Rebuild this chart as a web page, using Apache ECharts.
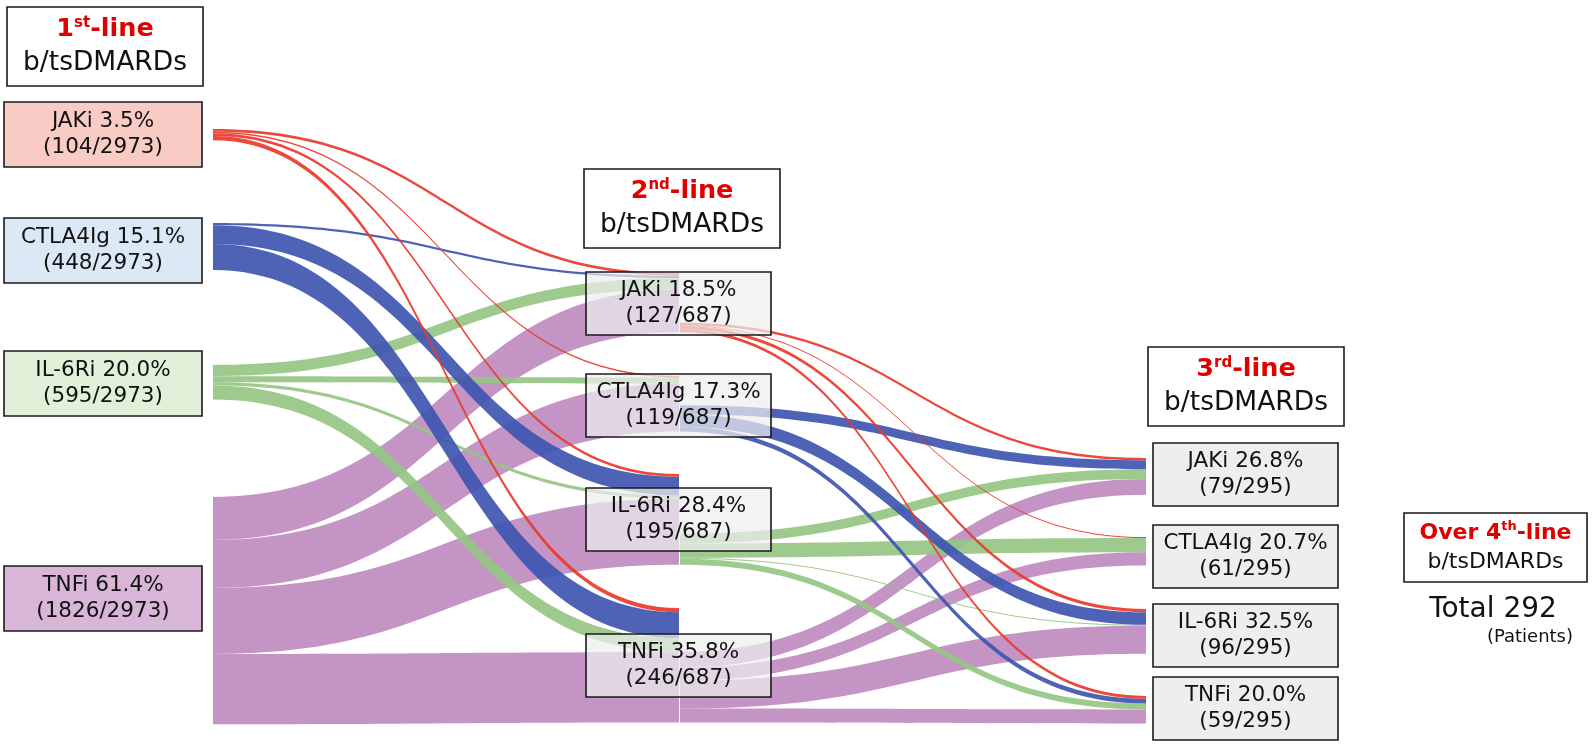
<!DOCTYPE html>
<html><head><meta charset="utf-8">
<script src="https://cdn.jsdelivr.net/npm/echarts@6/dist/echarts.min.js"></script>
<style>html,body{margin:0;padding:0;background:#fff}#c{width:1594px;height:745px}</style>
</head><body><div id="c"></div><script>
// ---------------- data ----------------
const drugs = ['JAKi', 'CTLA4Ig', 'IL-6Ri', 'TNFi'];
const line1Counts = [104, 448, 595, 1826];
const line1Total = 2973;
const line2Counts = [127, 119, 195, 246];
const line2Total = 687;
const line3Counts = [79, 61, 96, 59];
const line3Total = 295;
const over4Total = 292;
// patients switching 1st-line -> 2nd-line (rows: 1st-line drug, cols: 2nd-line drug)
const flowsJAKi1 = [6, 3, 6, 9];
const flowsCTLA4Ig1 = [5, 0, 40, 56];
const flowsIL6Ri1 = [24, 13, 7, 30];
const flowsTNFi1 = [92, 103, 142, 151];
// patients switching 2nd-line -> 3rd-line
const flowsJAKi2 = [5, 2, 7, 6];
const flowsCTLA4Ig2 = [19, 0, 27, 10];
const flowsIL6Ri2 = [21, 31, 2, 13];
const flowsTNFi2 = [34, 28, 60, 30];
const flows12 = [flowsJAKi1, flowsCTLA4Ig1, flowsIL6Ri1, flowsTNFi1];
const flows23 = [flowsJAKi2, flowsCTLA4Ig2, flowsIL6Ri2, flowsTNFi2];

// ---------------- layout / style ----------------
const FONT = '"DejaVu Sans", Verdana, sans-serif';
const LAYOUT_H = 320;
const nodeTop1 = [129, 223, 365, 497];
const nodeTop2 = [273, 376, 474, 608];
const nodeTop3 = [458, 537, 609, 696];
const linkColor = ['#e8392a', '#3f55b0', '#96c684', '#be8bbf'];
const box1Fill = ['#f8cbc4', '#dbe8f5', '#e2efd9', '#d9b5d8'];
const box1Y = [102, 218, 351, 566];
const box2Y = [272, 374, 488, 634];
const box3Y = [443, 525, 604, 677];

const nodes = [];
const links = [];
drugs.forEach((d, i) => nodes.push({ name: d + '#1', depth: 0, localY: nodeTop1[i] / LAYOUT_H }));
drugs.forEach((d, i) => nodes.push({ name: d + '#2', depth: 1, localY: nodeTop2[i] / LAYOUT_H }));
nodes.push({ name: 'rest#3', depth: 2, localY: 0 });
drugs.forEach((d, i) => nodes.push({ name: d + '#3', depth: 2, localY: nodeTop3[i] / LAYOUT_H }));

// draw order: TNFi (purple), IL-6Ri (green), CTLA4Ig (blue), JAKi (red)
const drawOrder = [3, 2, 1, 0];
// helper links (invisible) so that onward flows leave from the bottom of each 2nd-line node
drugs.forEach((d, i) => {
  const onward = flows23[i].reduce((a, b) => a + b, 0);
  links.push({ source: d + '#2', target: 'rest#3', value: line2Counts[i] - onward,
    lineStyle: { opacity: 0 } });
});
drawOrder.forEach(i => {
  drugs.forEach((t, j) => {
    const v = flows12[i][j];
    if (v > 0) links.push({ source: drugs[i] + '#1', target: t + '#2', value: v,
      lineStyle: { color: linkColor[i], opacity: 0.92 } });
  });
});
drawOrder.forEach(i => {
  drugs.forEach((t, j) => {
    const v = flows23[i][j];
    if (v > 0) links.push({ source: drugs[i] + '#2', target: t + '#3', value: v,
      lineStyle: { color: linkColor[i], opacity: 0.92 } });
  });
});

// ---------------- graphic boxes ----------------
const graphics = [];
function box(x, y, w, h, fill, text, rich, lw) {
  graphics.push({
    type: 'group', z: 100,
    children: [
      { type: 'rect', shape: { x: x, y: y, width: w, height: h },
        style: { fill: fill, stroke: '#1a1a1a', lineWidth: lw || 1.6 }, z: 100 },
      { type: 'text', z: 101,
        style: { x: x + w / 2, y: y + h / 2, text: text, rich: rich, align: 'center',
          verticalAlign: 'middle', fill: '#111', font: '21px ' + FONT } }
    ]
  });
}
const nodeRich = { a: { fontSize: 21.5, fontFamily: FONT, lineHeight: 26, fill: '#111' } };
function nodeText(name, count, total) {
  return '{a|' + name + ' ' + (count / total * 100).toFixed(1) + '%}\n{a|(' + count + '/' + total + ')}';
}
drugs.forEach((d, i) => {
  box(4, box1Y[i], 198, 65, box1Fill[i], nodeText(d, line1Counts[i], line1Total), nodeRich);
  box(586, box2Y[i], 185, 63, 'rgba(238,238,238,0.72)', nodeText(d, line2Counts[i], line2Total), nodeRich);
  box(1153, box3Y[i], 185, 63, '#eeeeee', nodeText(d, line3Counts[i], line3Total), nodeRich);
});
function titleRich(sz1, sz2) {
  return {
    r: { fontSize: sz1, fontWeight: 'bold', fontFamily: FONT, fill: '#e00000', lineHeight: 34 },
    s: { fontSize: Math.round(sz1 * 0.6), fontWeight: 'bold', fontFamily: FONT, fill: '#e00000', verticalAlign: 'top', lineHeight: 34, padding: [3, 0, 0, 0] },
    b: { fontSize: sz2, fontFamily: FONT, fill: '#111', lineHeight: 34 }
  };
}
const titles = [['1', 'st'], ['2', 'nd'], ['3', 'rd']];
const titleX = [7, 584, 1148];
const titleY = [7, 169, 347];
titles.forEach((t, i) => {
  box(titleX[i], titleY[i], 196, 79, '#ffffff',
    '{r|' + t[0] + '}{s|' + t[1] + '}{r|-line}\n{b|b/tsDMARDs}', titleRich(25.5, 26.5), 1.6);
});
graphics.push({
  type: 'group', z: 100,
  children: [
    { type: 'rect', shape: { x: 1404, y: 513, width: 183, height: 69 },
      style: { fill: '#fff', stroke: '#1a1a1a', lineWidth: 1.6 } },
    { type: 'text', style: { x: 1495.5, y: 547.5, align: 'center', verticalAlign: 'middle',
      text: '{r|Over 4}{s|th}{r|-line}\n{b|b/tsDMARDs}',
      rich: {
        r: { fontSize: 22, fontWeight: 'bold', fontFamily: FONT, fill: '#e00000', lineHeight: 29 },
        s: { fontSize: 13, fontWeight: 'bold', fontFamily: FONT, fill: '#e00000', verticalAlign: 'top', lineHeight: 29, padding: [2, 0, 0, 0] },
        b: { fontSize: 22, fontFamily: FONT, fill: '#111', lineHeight: 29 }
      } } },
    { type: 'text', style: { x: 1493, y: 610, align: 'center', verticalAlign: 'middle',
      text: 'Total ' + over4Total, font: '28px ' + FONT, fill: '#111' } },
    { type: 'text', style: { x: 1573, y: 637, align: 'right', verticalAlign: 'middle',
      text: '(Patients)', font: '18px ' + FONT, fill: '#111' } }
  ]
});

const chart = echarts.init(document.getElementById('c'));
chart.setOption({
  animation: false,
  backgroundColor: '#ffffff',
  series: [{
    type: 'sankey',
    left: 212, top: 0, width: 935, height: LAYOUT_H,
    nodeWidth: 1, nodeGap: 0, layoutIterations: 0,
    draggable: false,
    emphasis: { disabled: true },
    label: { show: false },
    itemStyle: { opacity: 0, borderWidth: 0 },
    lineStyle: { curveness: 0.5 },
    data: nodes,
    links: links
  }],
  graphic: graphics
});
</script></body></html>
